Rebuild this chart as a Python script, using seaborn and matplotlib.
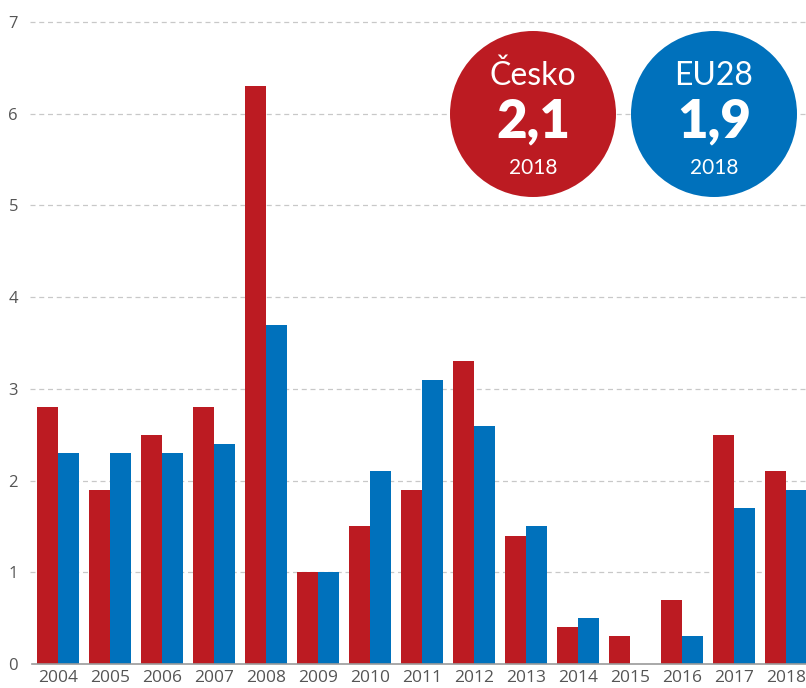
import matplotlib
matplotlib.use("Agg")
import matplotlib.pyplot as plt
from matplotlib.patches import Circle
import seaborn as sns
import pandas as pd

years = ["2004", "2005", "2006", "2007", "2008", "2009", "2010", "2011",
         "2012", "2013", "2014", "2015", "2016", "2017", "2018"]
cesko = [2.8, 1.9, 2.5, 2.8, 6.3, 1.0, 1.5, 1.9, 3.3, 1.4, 0.4, 0.3, 0.7, 2.5, 2.1]
eu28 = [2.3, 2.3, 2.3, 2.4, 3.7, 1.0, 2.1, 3.1, 2.6, 1.5, 0.5, 0.0, 0.3, 1.7, 1.9]
series = ["Česko", "EU28"]
colors = ["#BC1B22", "#0071BC"]
y_ticks = [0, 1, 2, 3, 4, 5, 6, 7]
badge_values = ["2,1", "1,9"]
badge_year = "2018"

df = pd.DataFrame({
    "rok": years * 2,
    "hodnota": cesko + eu28,
    "serie": [series[0]] * len(years) + [series[1]] * len(years),
})

sns.set_style("white")
plt.rcParams["font.family"] = ["Open Sans", "DejaVu Sans"]

W, H = 806, 688
fig = plt.figure(figsize=(W / 100, H / 100), dpi=100)
ax = fig.add_axes([32 / W, 24 / H, 780 / W, 642 / H])

sns.barplot(data=df, x="rok", y="hodnota", hue="serie", palette=colors,
            hue_order=series, order=years, width=0.8, linewidth=0,
            saturation=1, ax=ax, legend=False)

ax.set_xlim(-0.5, len(years) - 0.5)
ax.set_ylim(0, 7)
ax.set_xlabel("")
ax.set_ylabel("")

# dashed horizontal grid
for v in y_ticks[1:]:
    ax.axhline(v, xmin=-0.003, xmax=1, color="#c8c8c8", lw=0.9,
               ls=(0, (4, 3)), zorder=0, clip_on=False)

for side in ["top", "right", "left"]:
    ax.spines[side].set_visible(False)
ax.spines["bottom"].set_color("#9a9a9a")
ax.spines["bottom"].set_linewidth(1.2)

ax.set_yticks(y_ticks)
ax.set_yticklabels([str(v) for v in y_ticks])
ax.tick_params(axis="y", length=0, pad=10, labelsize=12, labelcolor="#555555")

ax.set_xticks(range(len(years)))
ax.set_xticklabels(years)
ax.set_xticks([i - 0.5 for i in range(len(years) + 1)], minor=True)
ax.tick_params(axis="x", which="major", length=0, pad=4, labelsize=12.5,
               labelcolor="#555555")
ax.tick_params(axis="x", which="minor", length=5, width=1.1, color="#9a9a9a",
               direction="out")

# headline badges for the latest year (positions in pixels from top-left)
badge_centers = [(533, 114), (714, 114)]
radius = 83
font = ["Lato", "DejaVu Sans"]
for (cx, cy), name, val, col in zip(badge_centers, series, badge_values, colors):
    circ = Circle((cx / 100, (H - cy) / 100), radius / 100,
                  transform=fig.dpi_scale_trans,
                  facecolor=col, edgecolor="none", zorder=5)
    fig.patches.append(circ)
    fig.text(cx / W, (H - 85) / H, name, color="white", fontsize=23,
             ha="center", va="baseline", family=font, zorder=6)
    fig.text(cx / W, (H - 137) / H, val, color="white", fontsize=38,
             fontweight="heavy", ha="center", va="baseline", family=font,
             zorder=6)
    fig.text(cx / W, (H - 174) / H, badge_year, color="white", fontsize=15,
             ha="center", va="baseline", family=font, zorder=6)

fig.savefig("out.png", dpi=100)
